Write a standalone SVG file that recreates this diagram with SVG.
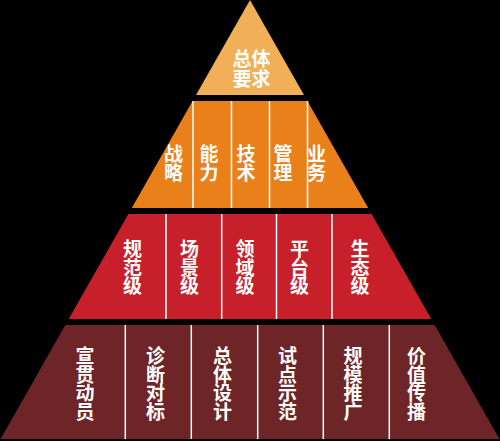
<svg xmlns="http://www.w3.org/2000/svg" width="500" height="441" viewBox="0 0 500 441">
<style>
.t{font-family:"Noto Sans CJK SC","Noto Sans",sans-serif;font-size:19px;font-weight:700;fill:#ffffff;text-anchor:middle}
.d{stroke:#ffffff;stroke-width:1.5;fill:none}
</style>
<rect x="0" y="0" width="500" height="441" fill="#000000"/>
<g id="level1">
<polygon points="250,0 304,95 196,95" fill="#F1AF57"/>
<text class="t"><tspan x="251.5" y="66">总体</tspan><tspan x="251.5" y="85.5">要求</tspan></text>
</g>
<g id="level2">
<polygon points="192.6,101 307.4,101 368.2,208 131.8,208" fill="#E98019"/>
<text class="t"><tspan x="173.5" y="161">战</tspan><tspan x="173.5" y="179.5">略</tspan></text>
<text class="t"><tspan x="209" y="161">能</tspan><tspan x="209" y="179.5">力</tspan></text>
<text class="t"><tspan x="246" y="161">技</tspan><tspan x="246" y="179.5">术</tspan></text>
<text class="t"><tspan x="283" y="161">管</tspan><tspan x="283" y="179.5">理</tspan></text>
<text class="t"><tspan x="316.5" y="161">业</tspan><tspan x="316.5" y="179.5">务</tspan></text>
</g>
<g id="level3">
<polygon points="128.4,214 371.6,214 431.25,319 68.75,319" fill="#C8202A"/>
<text class="t"><tspan x="132.5" y="256">规</tspan><tspan x="132.5" y="274.5">范</tspan><tspan x="132.5" y="293">级</tspan></text>
<text class="t"><tspan x="189.5" y="256">场</tspan><tspan x="189.5" y="274.5">景</tspan><tspan x="189.5" y="293">级</tspan></text>
<text class="t"><tspan x="245" y="256">领</tspan><tspan x="245" y="274.5">域</tspan><tspan x="245" y="293">级</tspan></text>
<text class="t"><tspan x="299.5" y="256">平</tspan><tspan x="299.5" y="274.5">台</tspan><tspan x="299.5" y="293">级</tspan></text>
<text class="t"><tspan x="360" y="256">生</tspan><tspan x="360" y="274.5">态</tspan><tspan x="360" y="293">级</tspan></text>
</g>
<g id="level4">
<polygon points="65.3,325 434.7,325 499.4,439 0.6,439" fill="#6E2528"/>
<text class="t"><tspan x="85" y="363.3">宣</tspan><tspan x="85" y="381.8">贯</tspan><tspan x="85" y="400.3">动</tspan><tspan x="85" y="418.8">员</tspan></text>
<text class="t"><tspan x="155.5" y="363.3">诊</tspan><tspan x="155.5" y="381.8">断</tspan><tspan x="155.5" y="400.3">对</tspan><tspan x="155.5" y="418.8">标</tspan></text>
<text class="t"><tspan x="222.5" y="363.3">总</tspan><tspan x="222.5" y="381.8">体</tspan><tspan x="222.5" y="400.3">设</tspan><tspan x="222.5" y="418.8">计</tspan></text>
<text class="t"><tspan x="287.5" y="363.3">试</tspan><tspan x="287.5" y="381.8">点</tspan><tspan x="287.5" y="400.3">示</tspan><tspan x="287.5" y="418.8">范</tspan></text>
<text class="t"><tspan x="353" y="363.3">规</tspan><tspan x="353" y="381.8">模</tspan><tspan x="353" y="400.3">推</tspan><tspan x="353" y="418.8">广</tspan></text>
<text class="t"><tspan x="416.5" y="363.3">价</tspan><tspan x="416.5" y="381.8">值</tspan><tspan x="416.5" y="400.3">传</tspan><tspan x="416.5" y="418.8">播</tspan></text>
</g>
<g id="dividers">
<line class="d" x1="193" y1="101" x2="193" y2="208"/>
<line class="d" x1="231.5" y1="101" x2="231.5" y2="208"/>
<line class="d" x1="269.5" y1="101" x2="269.5" y2="208"/>
<line class="d" x1="307.5" y1="101" x2="307.5" y2="208"/>
<line class="d" x1="166" y1="214" x2="166" y2="319"/>
<line class="d" x1="221.7" y1="214" x2="221.7" y2="319"/>
<line class="d" x1="276.5" y1="214" x2="276.5" y2="319"/>
<line class="d" x1="332" y1="214" x2="332" y2="319"/>
<line class="d" x1="125.3" y1="325" x2="125.3" y2="439"/>
<line class="d" x1="191.3" y1="325" x2="191.3" y2="439"/>
<line class="d" x1="257.7" y1="325" x2="257.7" y2="439"/>
<line class="d" x1="323.3" y1="325" x2="323.3" y2="439"/>
<line class="d" x1="389.3" y1="325" x2="389.3" y2="439"/>
</g>
</svg>
